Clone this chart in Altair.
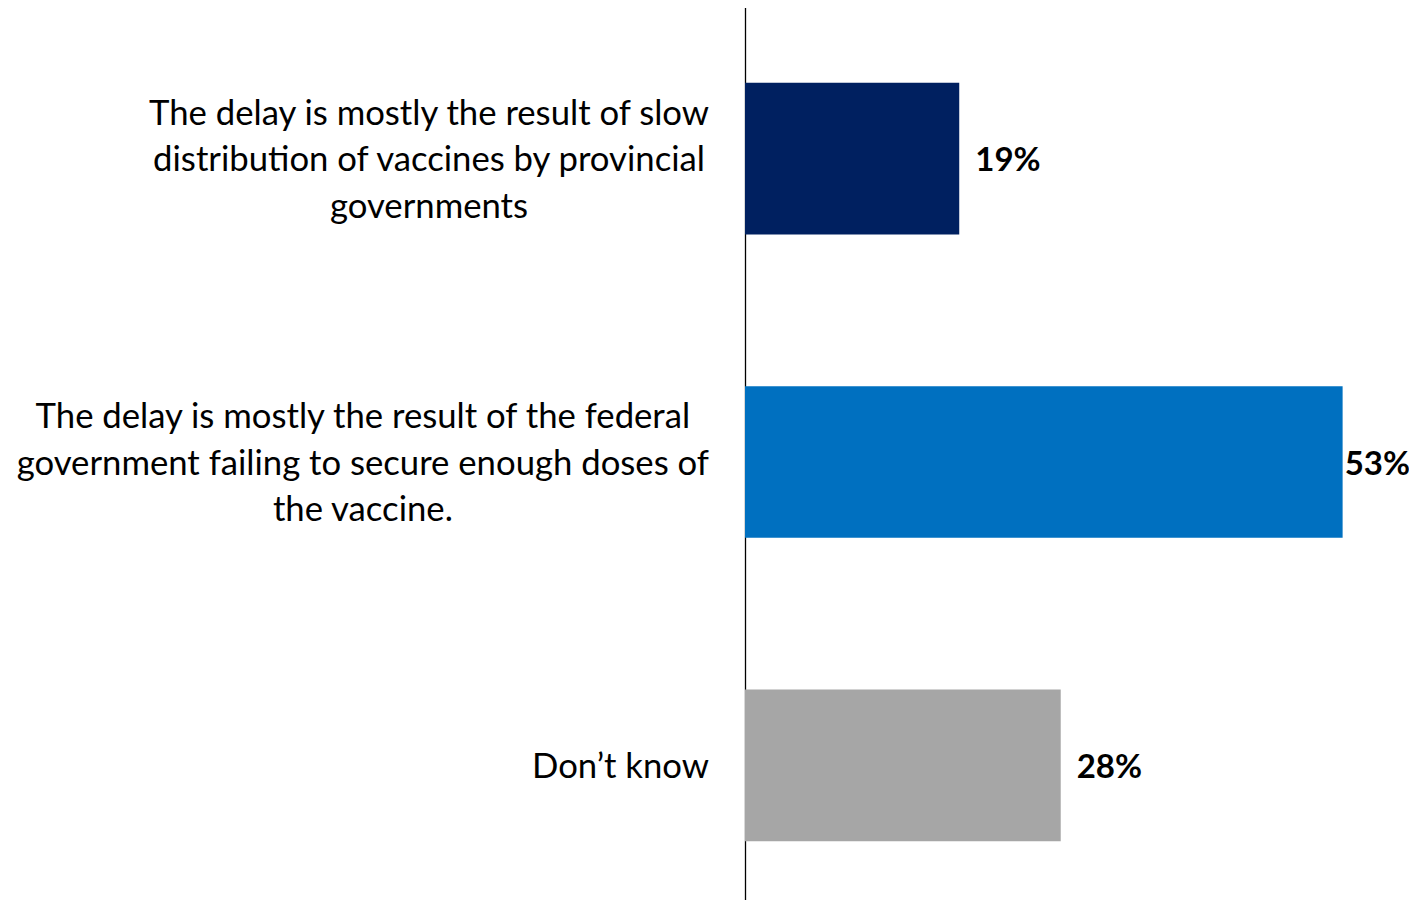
import altair as alt
import pandas as pd

categories = [
    "The delay is mostly the result of slow\ndistribution of vaccines by provincial\ngovernments",
    "The delay is mostly the result of the federal\ngovernment failing to secure enough doses of\nthe vaccine.",
    "Don\u2019t know",
]
keys = ["provincial", "federal", "dontknow"]
values = [19, 53, 28]
colors = ["#002060", "#0070C0", "#A6A6A6"]

FONT = "Lato"
FS = 34.7
VFS = 33
LH = 46.5
LABEL_GAP = 36
PLOT_W = 654
XMAX = 58
PAD_L = 737
PAD_R = 10
VAL_DX = 16
TEXT_DY = 2.5


def _heuristic_width(s, size):
    w = 0.0
    for ch in s:
        if ch in "ilj'\u2019.,:;|!":
            w += 0.24
        elif ch in "ftr":
            w += 0.33
        elif ch == " ":
            w += 0.26
        elif ch in "mw":
            w += 0.82
        elif ch.isupper():
            w += 0.66
        else:
            w += 0.53
    return w * size


def _make_measure(style, size):
    try:
        import subprocess
        from PIL import ImageFont
        path = subprocess.run(["fc-match", "-f", "%{file}", f"{FONT}:{style}"], capture_output=True, text=True).stdout.strip()
        font = ImageFont.truetype(path, size)
        font.getlength("test")
        return lambda s: font.getlength(s)
    except Exception:
        k = 1.08 if style == "bold" else 1.0
        return lambda s: _heuristic_width(s, size) * k


measure = _make_measure("regular", FS)
measure_bold = _make_measure("bold", VFS)

df = pd.DataFrame({"key": keys, "label": categories, "value": values, "color": colors})
df["blockw"] = df["label"].apply(lambda s: max(measure(l) for l in s.split("\n")))
df["nlines"] = df["label"].apply(lambda s: len(s.split("\n")))
df["pct"] = df["value"].astype(str) + "%"
# value label position: just right of the bar, kept inside the chart's right edge
ppu = PLOT_W / XMAX
df["lx"] = [
    min(v * ppu + VAL_DX, PLOT_W + PAD_R - measure_bold(t) + 1)
    for v, t in zip(df["value"], df["pct"])
]

y_enc = alt.Y(
    "key:N",
    sort=keys,
    scale=alt.Scale(range=[-1, 909], paddingInner=0.5, paddingOuter=0.25),
    axis=alt.Axis(labels=False, ticks=False, title=None, domainColor="#000000", domainWidth=1.3, grid=False),
)

base = alt.Chart(df)

bars = base.mark_bar().encode(
    x=alt.X("value:Q", scale=alt.Scale(domain=[0, XMAX], nice=False), axis=None),
    y=y_enc,
    color=alt.Color("color:N", scale=None),
)

vals = base.mark_text(align="left", baseline="middle", dy=TEXT_DY, font=FONT, fontSize=VFS,
                      fontWeight="bold", color="#000000").encode(
    x=alt.X("lx:Q", scale=None),
    y=alt.Y("key:N", sort=keys),
    text="pct:N",
)

label_layers = []
for n in sorted(df["nlines"].unique()):
    label_layers.append(
        base.transform_filter(f"datum.nlines == {n}")
        .transform_calculate(cx=f"-{LABEL_GAP} - datum.blockw / 2")
        .mark_text(align="center", baseline="middle", lineBreak="\n", lineHeight=LH,
                   dy=TEXT_DY - (n - 1) / 2 * LH, font=FONT, fontSize=FS, color="#000000")
        .encode(
            x=alt.X("cx:Q", scale=None),
            y=alt.Y("key:N", sort=keys),
            text="label:N",
        )
    )

chart = alt.layer(bars, vals, *label_layers).properties(
    width=PLOT_W,
    height=892,
    autosize=alt.AutoSizeParams(type="none"),
    padding={"left": PAD_L, "top": 0, "right": PAD_R, "bottom": 0},
).configure_view(stroke=None)

chart.save("out.html", embed_options={"renderer": "svg", "actions": False})
